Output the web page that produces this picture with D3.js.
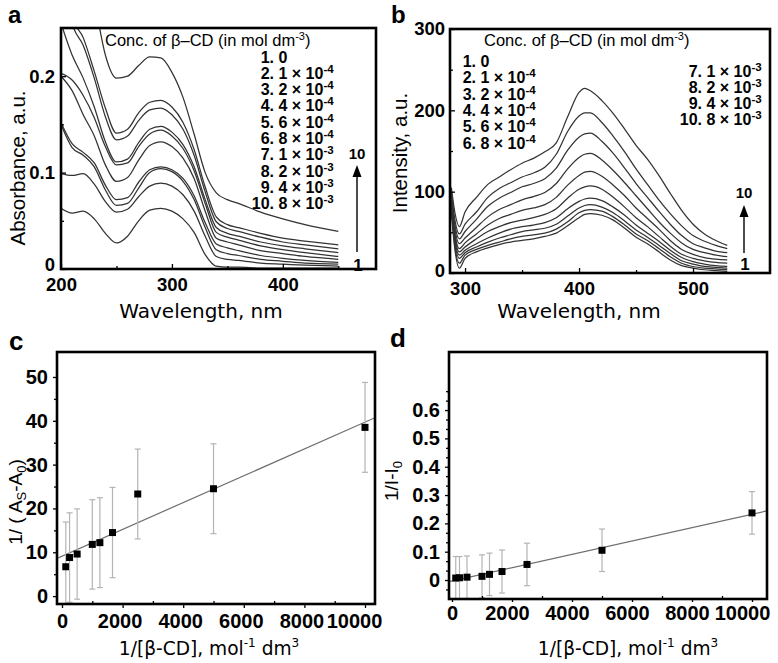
<!DOCTYPE html>
<html><head><meta charset="utf-8">
<script src="https://cdn.jsdelivr.net/npm/d3@7/dist/d3.min.js"></script>
<style>body{margin:0;background:#fff}svg{display:block}</style>
</head><body><svg id="chart" width="778" height="663"></svg>
<script>
// ---------------- DATA ----------------
const wavelengthA = [200,210,220,230,240,250,260,270,280,290,300,310,320,330,340,350,360,380,400,420,450];
const absorbance1  = [0.063,0.058,0.060,0.052,0.037,0.027,0.034,0.050,0.061,0.063,0.060,0.052,0.038,0.015,0.003,0.002,0.002,0.001,0.001,0.001,0.001];
const absorbance2  = [0.099,0.097,0.099,0.088,0.070,0.059,0.062,0.075,0.086,0.089,0.086,0.077,0.060,0.034,0.013,0.010,0.009,0.006,0.005,0.004,0.003];
const absorbance3  = [0.150,0.126,0.118,0.106,0.082,0.066,0.068,0.084,0.100,0.104,0.101,0.091,0.072,0.043,0.020,0.016,0.014,0.010,0.008,0.006,0.005];
const absorbance4  = [0.152,0.130,0.121,0.110,0.087,0.072,0.074,0.090,0.103,0.106,0.103,0.094,0.076,0.048,0.026,0.022,0.019,0.014,0.011,0.009,0.007];
const absorbance5  = [0.200,0.185,0.160,0.138,0.108,0.091,0.095,0.113,0.128,0.132,0.127,0.115,0.094,0.060,0.032,0.028,0.025,0.019,0.016,0.013,0.010];
const absorbance6  = [0.203,0.196,0.180,0.157,0.127,0.108,0.110,0.127,0.140,0.144,0.138,0.125,0.102,0.068,0.038,0.033,0.030,0.024,0.020,0.017,0.013];
const absorbance7  = [0.255,0.222,0.198,0.168,0.132,0.111,0.114,0.131,0.145,0.148,0.142,0.129,0.106,0.072,0.043,0.037,0.034,0.028,0.024,0.021,0.017];
const absorbance8  = [0.320,0.255,0.232,0.198,0.158,0.134,0.138,0.154,0.165,0.167,0.160,0.145,0.118,0.080,0.049,0.042,0.039,0.033,0.028,0.025,0.021];
const absorbance9  = [0.340,0.262,0.240,0.205,0.167,0.141,0.145,0.162,0.173,0.175,0.168,0.152,0.124,0.085,0.054,0.046,0.043,0.037,0.032,0.029,0.025];
const absorbance10 = [0.450,0.400,0.340,0.280,0.222,0.198,0.200,0.211,0.220,0.219,0.204,0.178,0.140,0.100,0.079,0.072,0.068,0.059,0.052,0.046,0.039];
const absorbanceSeries = [absorbance1,absorbance2,absorbance3,absorbance4,absorbance5,absorbance6,absorbance7,absorbance8,absorbance9,absorbance10];

const wavelengthB = [288,291,295,300,310,320,330,340,350,360,370,380,390,400,405,410,420,430,440,450,460,470,480,490,500,510,520,530];
const intensity1  = [75,30,6,18,26,31,35,38,40,42,45,49,58,68,72,73,71,65,55,44,36,26,16,9,6,4,3,2];
const intensity2  = [78,34,12,22,29,34,38,42,45,47,49,54,63,74,77,78,76,69,59,48,40,30,20,12,8,6,5,4];
const intensity3  = [80,38,18,25,32,38,43,47,51,53,55,60,70,80,83,84,81,74,64,53,44,34,24,15,11,8,7,6];
const intensity4  = [82,42,22,28,36,43,49,54,57,59,62,68,79,88,91,92,89,81,71,59,49,39,28,19,14,11,9,8];
const intensity5  = [85,46,26,32,42,51,57,62,65,68,72,79,92,103,106,107,103,93,81,68,57,45,33,23,18,15,13,12];
const intensity6  = [88,50,30,37,48,59,67,72,77,80,84,93,108,120,124,125,119,108,95,80,67,54,40,29,23,19,17,16];
const intensity7  = [90,55,36,43,56,69,78,84,90,94,99,110,128,142,146,147,139,126,111,95,79,63,49,37,29,25,22,20];
const intensity8  = [95,60,42,51,66,82,92,99,106,110,116,129,151,167,171,172,162,147,129,110,93,76,60,46,36,31,27,25];
const intensity9  = [100,66,48,60,75,93,104,111,118,123,130,146,174,193,197,197,185,168,149,128,109,90,73,58,46,39,34,30];
const intensity10 = [105,75,57,75,93,109,118,127,135,141,149,160,192,222,227,224,212,196,177,157,140,120,98,77,60,48,40,34];
const intensitySeries = [intensity1,intensity2,intensity3,intensity4,intensity5,intensity6,intensity7,intensity8,intensity9,intensity10];

const legendIndex    = ["1.","2.","3.","4.","5.","6.","7.","8.","9.","10."];
const legendMantissa = ["0","1","2","4","6","8","1","2","4","8"];
const legendExponent = ["","-4","-4","-4","-4","-4","-3","-3","-3","-3"];

const invConc   = [125,250,500,1000,1250,1667,2500,5000,10000];
const invAbs    = [6.7,8.8,9.6,11.8,12.2,14.5,23.3,24.5,38.5];
const invAbsErr = [10.2,10.2,10.3,10.2,10.25,10.3,10.25,10.25,10.25];
const fitAbsIntercept = 9.1, fitAbsSlope = 0.00306;
const invFlu    = [0.007,0.008,0.010,0.013,0.020,0.030,0.055,0.105,0.237];
const invFluErr = [0.076,0.075,0.075,0.076,0.075,0.076,0.075,0.075,0.075];
const fitFluIntercept = -0.0036, fitFluSlope = 0.0000236;

const ticksAx = [200,300,400], minorAx = [250,350,450];
const ticksAy = [0,0.1,0.2],   minorAy = [0.05,0.15];
const ticksBx = [300,400,500], minorBx = [350,450];
const ticksBy = [0,100,200,300], minorBy = [50,150,250];
const ticksCx = [0,2000,4000,6000,8000,10000], minorCx = [1000,3000,5000,7000,9000];
const ticksCy = [0,10,20,30,40,50], minorCy = [5,15,25,35,45];
const ticksDx = [0,2000,4000,6000,8000,10000], minorDx = [1000,3000,5000,7000,9000];
const ticksDy = [0,0.1,0.2,0.3,0.4,0.5,0.6];
const minorDy = [-0.0333,0.0333,0.0667,0.1333,0.1667,0.2333,0.2667,0.3333,0.3667,0.4333,0.4667,0.5333,0.5667,0.6333,0.6667];

// ---------------- DRAWING ----------------
const FONT = '"Liberation Sans", Arial, Helvetica, sans-serif';
const WIDE = '"DejaVu Sans", Verdana, sans-serif';
const svg = d3.select("#chart");
svg.append("rect").attr("width",778).attr("height",663).attr("fill","#fff");
const defs = svg.append("defs");

function clip(id, f){
  defs.append("clipPath").attr("id",id).append("rect")
    .attr("x",f.x0).attr("y",f.y0).attr("width",f.x1-f.x0).attr("height",f.y1-f.y0);
}
function frame(f){
  svg.append("rect").attr("x",f.x0).attr("y",f.y0).attr("width",f.x1-f.x0).attr("height",f.y1-f.y0)
    .attr("fill","none").attr("stroke","#000").attr("stroke-width",2.6);
}
function axis(gen, tx, ty, size){
  const g = svg.append("g").attr("transform",`translate(${tx},${ty})`).call(gen);
  g.select(".domain").remove();
  g.selectAll("line").attr("stroke","#000").attr("stroke-width",1.3);
  g.selectAll("text").attr("font-family",FONT).attr("font-size",size).attr("font-weight","bold").attr("fill","#000");
  return g;
}
function txt(x,y,s,size,weight,anchor,family){
  return svg.append("text").attr("x",x).attr("y",y).attr("font-family",family||FONT)
    .attr("font-size",size).attr("font-weight",weight||"normal").attr("text-anchor",anchor||"start")
    .attr("fill","#000").text(s);
}
const fmt1 = d => d === 0 ? "0" : d3.format(".1f")(d);
function liftZero(g, px){ g.selectAll(".tick text").filter(d => d === 0).attr("transform",`translate(0,${-px})`); }
function shiftX(g, fn){ g.selectAll(".tick text").attr("dx", d => fn(d)); }

// ===== Panel a =====
const fA = {x0:61,y0:28,x1:376,y1:269};
const xA = d3.scaleLinear().domain([200,484]).range([fA.x0,fA.x1]);
const yA = d3.scaleLinear().domain([0,0.25]).range([fA.y1,fA.y0]);
clip("clipA",fA);
const lineA = d3.line().x(d=>xA(d[0])).y(d=>yA(d[1])).curve(d3.curveMonotoneX);
svg.append("g").attr("clip-path","url(#clipA)").selectAll("path").data(absorbanceSeries).join("path")
  .attr("d", s => lineA(wavelengthA.map((w,i)=>[w,s[i]])))
  .attr("fill","none").attr("stroke","#333").attr("stroke-width",1.25);
axis(d3.axisBottom(xA).tickValues(ticksAx).tickSize(-5).tickPadding(9).tickFormat(d3.format("d")),0,fA.y1,18.5);
axis(d3.axisBottom(xA).tickValues(minorAx).tickSize(-3).tickFormat(""),0,fA.y1,10);
const gAy = axis(d3.axisLeft(yA).tickValues(ticksAy).tickSize(-5).tickPadding(6).tickFormat(fmt1),fA.x0,0,18.5);
liftZero(gAy, 4);
axis(d3.axisLeft(yA).tickValues(minorAy).tickSize(-3).tickFormat(""),fA.x0,0,10);
frame(fA);

// ===== Panel b =====
const fB = {x0:450,y0:29,x1:770,y1:273};
const xB = d3.scaleLinear().domain([286.8,567.5]).range([fB.x0,fB.x1]);
const yB = d3.scaleLinear().domain([0,300]).range([fB.y1,fB.y0]);
clip("clipB",fB);
const lineB = d3.line().x(d=>xB(d[0])).y(d=>yB(d[1])).curve(d3.curveMonotoneX);
svg.append("g").attr("clip-path","url(#clipB)").selectAll("path").data(intensitySeries).join("path")
  .attr("d", s => lineB(wavelengthB.map((w,i)=>[w,s[i]])))
  .attr("fill","none").attr("stroke","#333").attr("stroke-width",1.25);
axis(d3.axisBottom(xB).tickValues(ticksBx).tickSize(-5).tickPadding(9).tickFormat(d3.format("d")),0,fB.y1,18.5);
axis(d3.axisBottom(xB).tickValues(minorBx).tickSize(-3).tickFormat(""),0,fB.y1,10);
const gBy = axis(d3.axisLeft(yB).tickValues(ticksBy).tickSize(-5).tickPadding(5).tickFormat(d3.format("d")),fB.x0,0,18.5);
liftZero(gBy, 2);
axis(d3.axisLeft(yB).tickValues(minorBy).tickSize(-3).tickFormat(""),fB.x0,0,10);
frame(fB);

// legends for a and b
function legendTitle(x,y){
  const t = txt(x,y,"Conc. of β–CD (in mol dm",16.5,"normal");
  t.append("tspan").attr("dy",-6).attr("font-size",11).text("-3");
  t.append("tspan").attr("dy",6).text(")");
}
function legendEntry(xNum,y,i){
  const t = txt(xNum,y,"",16,"bold");
  const num = t.append("tspan").text(legendIndex[i]);
  t.append("tspan").text(" " + legendMantissa[i]);
  if(legendExponent[i]){
    t.append("tspan").text(" × 10");
    t.append("tspan").attr("dy",-6).attr("font-size",11.5).text(legendExponent[i]);
  }
  t.attr("x", xNum - num.node().getComputedTextLength());
}
legendTitle(105,46);
for(let i=0;i<10;i++) legendEntry(274, 62.5 + 16.3*i, i);
legendTitle(484,46);
for(let i=0;i<6;i++) legendEntry(476, 67 + 16.3*i, i);
for(let i=6;i<10;i++) legendEntry(702, 77 + 16*(i-6), i);

// arrows
function arrow(x,yBot,yTip){
  svg.append("line").attr("x1",x).attr("x2",x).attr("y1",yBot).attr("y2",yTip+8).attr("stroke","#000").attr("stroke-width",1.4);
  svg.append("path").attr("d",`M${x},${yTip}L${x-4.5},${yTip+12}L${x+4.5},${yTip+12}Z`).attr("fill","#000");
}
arrow(357,252,165); txt(357,159,"10",15,"bold","middle"); txt(358,271,"1",17,"bold","middle");
arrow(744,253,205); txt(744,198,"10",15,"bold","middle"); txt(745,270,"1",17,"bold","middle");

// axis titles a,b
txt(201,318,"Wavelength, nm",20,"normal","middle",WIDE);
txt(579,318,"Wavelength, nm",20,"normal","middle",WIDE);
txt(0,0,"Absorbance, a.u.",20.5,"normal","middle").attr("transform","translate(25,168) rotate(-90)");
txt(0,0,"Intensity, a.u.",20.5,"normal","middle").attr("transform","translate(407,153) rotate(-90)");
txt(8,23,"a",24,"bold");
txt(391,23,"b",24,"bold");

// ===== Panel c =====
const fC = {x0:57,y0:352,x1:375,y1:604};
const xC = d3.scaleLinear().domain([-165,10330]).range([fC.x0,fC.x1]);
const yC = d3.scaleLinear().domain([-1.8,55.7]).range([fC.y1,fC.y0]);
clip("clipC",fC);
function scatterPanel(x,y,vals,errs,b0,b1,clipId){
  const g = svg.append("g").attr("clip-path",`url(#${clipId})`);
  const dom = x.domain();
  g.append("line").attr("x1",x(dom[0])).attr("y1",y(b0+b1*dom[0])).attr("x2",x(dom[1])).attr("y2",y(b0+b1*dom[1]))
    .attr("stroke","#6e6e6e").attr("stroke-width",1.2);
  const eb = g.selectAll("g.eb").data(invConc.map((c,i)=>({c,v:vals[i],e:errs[i]}))).join("g");
  eb.append("line").attr("x1",d=>x(d.c)).attr("x2",d=>x(d.c)).attr("y1",d=>y(d.v-d.e)).attr("y2",d=>y(d.v+d.e))
    .attr("stroke","#b4b4b4").attr("stroke-width",1.2);
  eb.append("line").attr("x1",d=>x(d.c)-3).attr("x2",d=>x(d.c)+3).attr("y1",d=>y(d.v+d.e)).attr("y2",d=>y(d.v+d.e))
    .attr("stroke","#b4b4b4").attr("stroke-width",1.2);
  eb.append("line").attr("x1",d=>x(d.c)-3).attr("x2",d=>x(d.c)+3).attr("y1",d=>y(d.v-d.e)).attr("y2",d=>y(d.v-d.e))
    .attr("stroke","#b4b4b4").attr("stroke-width",1.2);
  eb.append("rect").attr("x",d=>x(d.c)-3.5).attr("y",d=>y(d.v)-3.5).attr("width",7).attr("height",7).attr("fill","#000");
}
scatterPanel(xC,yC,invAbs,invAbsErr,fitAbsIntercept,fitAbsSlope,"clipC");
const gCx = axis(d3.axisBottom(xC).tickValues(ticksCx).tickSize(4).tickPadding(6).tickFormat(d3.format("d")),0,fC.y1,20);
shiftX(gCx, d => d === 0 ? 0 : (d === 10000 ? -11 : -3));
axis(d3.axisBottom(xC).tickValues(minorCx).tickSize(-3).tickFormat(""),0,fC.y1,10);
axis(d3.axisLeft(yC).tickValues(ticksCy).tickSize(4).tickPadding(5).tickFormat(d3.format("d")),fC.x0,0,20);
axis(d3.axisLeft(yC).tickValues(minorCy).tickSize(3).tickFormat(""),fC.x0,0,10);
frame(fC);

// ===== Panel d =====
const fD = {x0:449,y0:352,x1:767,y1:599};
const xD = d3.scaleLinear().domain([-100,10500]).range([fD.x0,fD.x1]);
const yD = d3.scaleLinear().domain([-0.067,0.805]).range([fD.y1,fD.y0]);
clip("clipD",fD);
scatterPanel(xD,yD,invFlu,invFluErr,fitFluIntercept,fitFluSlope,"clipD");
const gDx = axis(d3.axisBottom(xD).tickValues(ticksDx).tickSize(3).tickPadding(4).tickFormat(d3.format("d")),0,fD.y1,20);
shiftX(gDx, d => d === 0 ? 0 : (d === 10000 ? -10 : -5));
axis(d3.axisBottom(xD).tickValues(minorDx).tickSize(-3).tickFormat(""),0,fD.y1,10);
axis(d3.axisLeft(yD).tickValues(ticksDy).tickSize(4).tickPadding(5).tickFormat(fmt1),fD.x0,0,20);
axis(d3.axisLeft(yD).tickValues(minorDy).tickSize(3).tickFormat(""),fD.x0,0,10);
frame(fD);

// titles c,d
function concTitle(cx,y){
  const t = txt(cx,y,"1/[β-CD], mol",18.6,"normal","middle",WIDE);
  t.append("tspan").attr("dy",-8).attr("font-size",12).text("-1");
  t.append("tspan").attr("dy",8).text(" dm");
  t.append("tspan").attr("dy",-8).attr("font-size",12).text("3");
}
concTitle(209,655);
concTitle(628,655);
const tc = txt(0,0,"1/ ( A",19,"normal","middle").attr("transform","translate(22,502) rotate(-90)");
tc.append("tspan").attr("dy",4).attr("font-size",13).text("S");
tc.append("tspan").attr("dy",-4).text("-A");
tc.append("tspan").attr("dy",4).attr("font-size",13).text("0");
tc.append("tspan").attr("dy",-4).text(")");
const td = txt(0,0,"1/I-I",19,"normal","middle").attr("transform","translate(398,481) rotate(-90)");
td.append("tspan").attr("dy",4).attr("font-size",13).text("0");
txt(9,350,"c",26,"bold");
txt(390,347,"d",26,"bold");
</script></body></html>
